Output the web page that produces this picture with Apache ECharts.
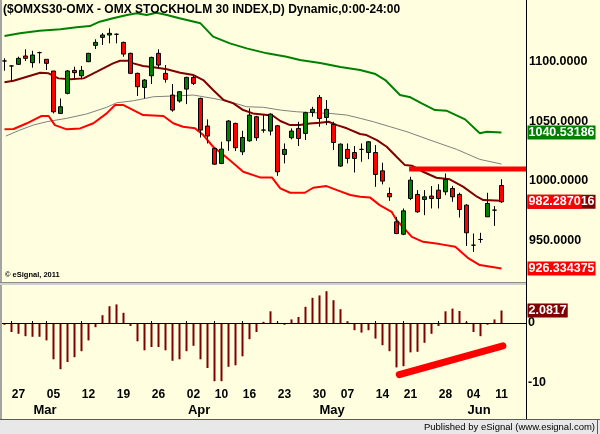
<!DOCTYPE html>
<html>
<head>
<meta charset="utf-8">
<script src="https://cdn.jsdelivr.net/npm/echarts@6/dist/echarts.min.js"></script>
<style>
  html, body { margin: 0; padding: 0; background: #ffffe0; }
  #chart { width: 600px; height: 434px; }
</style>
</head>
<body>
<div id="chart"></div>
<script>
// trading days shown on the chart
const dates = [
  '2012-02-23','2012-02-24','2012-02-27','2012-02-28','2012-02-29',
  '2012-03-01','2012-03-02','2012-03-05','2012-03-06','2012-03-07','2012-03-08','2012-03-09',
  '2012-03-12','2012-03-13','2012-03-14','2012-03-15','2012-03-16',
  '2012-03-19','2012-03-20','2012-03-21','2012-03-22','2012-03-23',
  '2012-03-26','2012-03-27','2012-03-28','2012-03-29','2012-03-30',
  '2012-04-02','2012-04-03','2012-04-04','2012-04-05',
  '2012-04-10','2012-04-11','2012-04-12','2012-04-13',
  '2012-04-16','2012-04-17','2012-04-18','2012-04-19','2012-04-20',
  '2012-04-23','2012-04-24','2012-04-25','2012-04-26','2012-04-27',
  '2012-04-30','2012-05-02','2012-05-03','2012-05-04',
  '2012-05-07','2012-05-08','2012-05-09','2012-05-10','2012-05-11',
  '2012-05-14','2012-05-15','2012-05-16','2012-05-18',
  '2012-05-21','2012-05-22','2012-05-23','2012-05-24','2012-05-25',
  '2012-05-28','2012-05-29','2012-05-30','2012-05-31',
  '2012-06-04','2012-06-05','2012-06-07','2012-06-08','2012-06-11'
];

const opens = [
  1100.5,1096.3,1097.7,1104.7,1099.1,1107.5,1101.9,1092.1,1056.5,1073.3,
  1092.6,1088.1,1099.9,1113.6,1120.3,1122.3,1122.9,1116.1,1106.9,1090.1,
  1078.3,1088.1,1106.9,1090.1,1071.9,1066.9,1076.9,1086.7,1069.1,1045.9,
  1027.1,1014.5,1033.5,1048.1,1024.3,1033.5,1053.7,1042.5,1041.7,1046.1,
  1022.1,1036.1,1043.9,1039.7,1057.3,1069.9,1053.1,1047.3,1012.3,1026.3,
  1023.7,1026.3,1023.7,1023.7,1008.3,989.3,965.5,955.1,985.1,988.5,
  984.3,987.1,992.1,990.7,993.5,988.5,979.5,945.9,950.7,969.7,
  975.3,996.0
];
const closes = [
  1100.5,1096.3,1102.7,1102.7,1105.5,1107.5,1098.5,1057.9,1062.1,1092.1,
  1090.7,1092.6,1106.9,1116.1,1122.3,1123.7,1122.9,1106.3,1090.1,1078.9,
  1084.5,1103.5,1097.1,1085.1,1059.3,1074.7,1086.7,1081.7,1042.5,1037.5,
  1013.9,1026.5,1050.1,1027.7,1036.3,1055.1,1036.1,1042.5,1055.9,1007.5,
  1026.3,1041.7,1035.5,1057.1,1059.9,1052.3,1059.9,1032.1,1030.7,1018.7,
  1018.7,1026.3,1032.7,1005.3,999.7,986.5,955.7,974.7,1000.5,973.9,
  986.5,985.1,985.1,1001.1,986.5,975.9,956.3,945.9,950.7,980.9,
  975.3,982.3
];
const lows = [
  1092.3,1083.1,1097.1,1100.5,1094.9,1098.5,1092.9,1056.5,1055.9,1072.5,
  1085.9,1085.1,1099.5,1110.5,1113.9,1115.3,1115.3,1104.1,1089.5,1071.1,
  1069.1,1081.1,1095.1,1082.3,1057.9,1065.5,1064.3,1080.3,1036.3,1031.3,
  1013.4,1013.9,1025.1,1024.9,1021.5,1032.7,1033.5,1040.3,1038.0,1004.1,
  1014.5,1034.7,1029.1,1034.1,1053.7,1045.3,1046.7,1025.7,1011.7,1014.5,
  1006.9,1015.9,1018.1,994.9,996.9,983.1,955.1,954.3,983.7,973.1,
  971.1,976.7,976.7,987.9,982.3,969.1,945.3,940.3,947.9,969.7,
  962.1,981.5
];
const highs = [
  1102.7,1096.8,1104.1,1110.3,1109.1,1108.3,1101.9,1092.1,1069.1,1092.9,
  1095.7,1096.3,1107.3,1118.7,1124.0,1127.9,1123.7,1116.7,1107.5,1090.7,
  1085.3,1104.1,1110.3,1097.1,1081.1,1075.3,1087.3,1087.9,1069.7,1051.5,
  1027.7,1032.7,1050.9,1048.7,1041.9,1060.7,1054.5,1055.1,1056.5,1046.7,
  1031.3,1043.9,1049.5,1057.9,1062.1,1071.9,1067.7,1049.5,1031.3,1031.3,
  1029.1,1031.3,1033.3,1029.9,1015.1,994.3,969.7,976.7,1003.3,992.1,
  992.1,995.5,997.1,1006.1,995.5,989.9,980.3,955.7,956.3,989.9,
  978.7,1001.3
];

// band lines, read as [bar, value]
const upperBand = [
  [0,1121.5],[2.2,1123.7],[5,1125.9],[8,1127.1],[10.3,1128.8],[12.2,1129.8],[13.6,1133.5],
  [15.5,1136.3],[17.5,1139.1],[18.9,1140.5],[20.3,1139.1],[21.7,1141.0],[23.2,1139.1],[25,1136.3],
  [28,1132.1],[29.8,1120.9],[32.2,1115.3],[34.6,1111.1],[37.5,1106.9],[40.3,1104.1],[42.2,1101.3],
  [45.1,1098.8],[48,1095.4],[50.8,1092.9],[53,1089.5],[54.4,1084.5],[56.5,1071.9],[58,1070.0],
  [59.6,1064.9],[61.5,1059.3],[63.2,1058.7],[65.8,1051.5],[67.9,1039.8],[68.9,1041.1],[71,1040.5]
];
const midBand = [
  [0,1082.6],[1.3,1083.9],[3.2,1087.3],[5.1,1090.6],[6.3,1090.1],[7.7,1085.9],[9.4,1085.1],
  [11.3,1085.9],[13.2,1091.5],[15.5,1098.5],[16.5,1100.7],[17.7,1100.7],[18.4,1098.5],[19.8,1096.3],
  [21.3,1095.2],[23.2,1093.5],[25.1,1090.6],[27,1088.7],[28.4,1084.5],[29.8,1076.1],[31.3,1067.7],
  [32.7,1064.9],[34.1,1059.3],[35.5,1056.5],[37.5,1055.1],[38.4,1054.3],[39.4,1050.1],[40.8,1046.7],
  [42.2,1046.7],[43.6,1048.1],[45.1,1048.7],[46.3,1049.5],[47.5,1046.7],[48.9,1044.0],[50.8,1039.2],
  [51.7,1038.3],[53.2,1034.1],[54.6,1028.5],[56,1020.1],[57.2,1013.1],[58.2,1012.6],[59.8,1007.5],
  [61.7,1002.5],[63.6,1001.2],[65.5,995.0],[67.5,986.6],[68.4,983.8],[71,983.2]
];
const lowerBand = [
  [0,1043.1],[1.3,1043.4],[3.2,1048.2],[4.6,1052.4],[5.3,1054.3],[6.3,1054.3],[7.2,1046.7],
  [8.9,1043.1],[10.8,1043.9],[12.7,1048.2],[14.6,1056.5],[15.8,1063.5],[17,1063.5],[18.4,1059.3],
  [19.8,1055.1],[22.7,1054.3],[24.1,1048.2],[25.5,1045.3],[27.2,1044.0],[28.4,1038.3],[29.8,1028.5],
  [31.3,1021.5],[32.7,1014.6],[34.1,1007.5],[36.5,1002.8],[38.2,1002.8],[39.4,993.6],[40.8,989.9],
  [42.9,989.9],[44.1,994.1],[46,995.5],[47.5,992.1],[49.4,988.0],[50.8,986.5],[52.2,986.0],
  [53.6,979.5],[55.3,973.9],[56,967.0],[58.2,952.9],[59.8,948.7],[62.2,946.8],[64.4,944.5],
  [66.3,934.8],[67.9,929.2],[71,926.3]
];
const slowAvg = [
  [0.2,1037.5],[2.2,1042.5],[4.1,1046.7],[6,1049.5],[8.9,1052.4],[11.7,1056.0],[14.6,1061.6],
  [16,1065.4],[18.4,1067.1],[21.3,1070.5],[24.1,1071.1],[27,1071.9],[29.8,1069.1],[32.2,1066.3],
  [34.6,1062.1],[37,1061.6],[39.4,1059.3],[41.7,1057.9],[44.1,1057.1],[46.5,1056.5],[48.9,1055.1],
  [50.8,1052.4],[52.7,1049.5],[55.1,1045.3],[57.5,1041.1],[60.8,1034.1],[64.6,1026.3],[67.9,1017.9],
  [71,1014.0]
];

// oscillator histogram (lower pane)
const osc = [
  -0.3,-1.5,-1.8,-2.2,-2.3,-2.3,-2.9,-6.05,-7.7,-6.5,
  -5.7,-4.7,-2.9,-0.7,1.3,2.8,3.1,1.7,-0.5,-3.05,
  -4.55,-4.0,-4.0,-4.55,-6.3,-6.05,-4.7,-3.8,-6.05,-7.5,
  -9.7,-9.7,-7.3,-7.05,-5.55,-2.7,-1.5,0.2,1.95,0.05,
  -0.3,0.6,1.0,2.7,4.2,4.6,5.3,3.8,2.3,0.3,
  -1.2,-1.6,-1.2,-2.6,-3.7,-4.7,-7.4,-7.2,-4.9,-4.8,
  -3.3,-1.8,-0.5,1.95,2.4,2.0,0.2,-1.5,-2.2,-0.3,
  0.6,2.0817
];

// drawn lines: resistance and oscillator trend, [bar, value]
const resistance = [[57.8, 1009.8], [74.5, 1009.8]];
const oscTrend = [[56.4, -8.6], [71.2, -3.8]];

const priceTicks = [950, 1000, 1050, 1100];
const oscTicks = [-10, 0];
const monthNames = ['Jan','Feb','Mar','Apr','May','Jun','Jul','Aug','Sep','Oct','Nov','Dec'];

// last-value tags on the right
const upperLast = 1040.53186;
const midLast = 982.287016;
const lowerLast = 926.334375;
const oscLast = 2.0817;
const upperTag = '1040.53186';
const midTag = '982.287016';
const closeTag = '982.2870';
const lowerTag = '926.334375';
const oscTag = '2.0817';

const FONT = '"Liberation Sans", Arial, sans-serif';
const slots = dates.length + 3;
const cats = dates.concat(['', '', '']);
const CLEAR = 'rgba(0,0,0,0)';

function dow(i) { return new Date(dates[i] + 'T00:00:00Z').getUTCDay(); }
function mon(i) { return +dates[i].slice(5, 7); }
function weekStart(i) { return i > 0 && i < dates.length && dow(i) < dow(i - 1); }
function periodEnd(i) {
    return i < dates.length - 1 && (dow(i + 1) < dow(i) || mon(i + 1) !== mon(i));
}

const monthPos = [];
const monthName = {};
dates.forEach((d, i) => {
    if (i > 0 && mon(i) !== mon(i - 1)) {
        const p = +(i + 0.8).toFixed(1);
        monthPos.push(p);
        monthName[p.toFixed(1)] = monthNames[mon(i) - 1];
    }
});

const candles = dates.map((d, i) => [opens[i], closes[i], lows[i], highs[i]]);

function tagLabel(text, bg) {
    return {
        show: true, position: 'end', distance: 1.5, formatter: text,
        color: '#fff', backgroundColor: bg,
        fontFamily: FONT, fontWeight: 'bold', fontSize: 12.5,
        lineHeight: 13, padding: [1, 1, 0, 1]
    };
}

function tag(value, text, bg) {
    return {
        silent: true,
        symbol: 'none',
        animation: false,
        data: [{
            yAxis: value,
            lineStyle: { color: CLEAR, width: 1 },
            label: tagLabel(text, bg)
        }]
    };
}

function band(data, color, width, z, mark) {
    return {
        type: 'line', xAxisIndex: 1, yAxisIndex: 0, data: data,
        symbol: 'none', showSymbol: false, z: z,
        lineStyle: { color: color, width: width },
        markLine: mark
    };
}

var chart = echarts.init(document.getElementById('chart'));
var option = {
    animation: false,
    backgroundColor: '#ffffe0',
    grid: [
        { left: 1, width: 525, top: 2, height: 280, containLabel: false, outerBoundsMode: 'none' },
        { left: 1, width: 525, top: 287, height: 99, containLabel: false, outerBoundsMode: 'none' }
    ],
    xAxis: [
        { type: 'category', gridIndex: 0, data: cats, boundaryGap: true, show: false },
        { type: 'value', gridIndex: 0, min: -0.5, max: slots - 0.5, show: false },
        {
            type: 'category', gridIndex: 1, data: cats, boundaryGap: true, position: 'bottom',
            axisLine: { lineStyle: { color: '#000', width: 1 } },
            axisTick: {
                show: true, alignWithLabel: true, inside: true, length: 2,
                interval: (i) => periodEnd(i), lineStyle: { color: '#000' }
            },
            axisLabel: {
                interval: (i) => weekStart(i), formatter: (v) => v.slice(8),
                color: '#000', fontFamily: FONT, fontWeight: 'bold', fontSize: 12, margin: 3
            },
            splitLine: { show: false }
        },
        {
            type: 'value', gridIndex: 1, min: -0.5, max: slots - 0.5, position: 'bottom',
            axisLine: { show: false }, axisTick: { show: false }, splitLine: { show: false },
            axisLabel: {
                customValues: monthPos, formatter: (v) => monthName[(+v).toFixed(1)] || '',
                color: '#000', fontFamily: FONT, fontWeight: 'bold', fontSize: 13, margin: 18
            }
        }
    ],
    yAxis: [
        {
            type: 'value', gridIndex: 0, position: 'right', min: 915, max: 1150,
            axisLine: { show: false }, axisTick: { show: false }, splitLine: { show: false },
            axisLabel: {
                customValues: priceTicks, formatter: (v) => (+v).toFixed(4),
                color: '#000', fontFamily: FONT, fontWeight: 'bold', fontSize: 12.5, margin: 3
            }
        },
        {
            type: 'value', gridIndex: 1, position: 'right', min: -10.5, max: 6,
            axisLine: { show: false }, axisTick: { show: false }, splitLine: { show: false },
            axisLabel: {
                customValues: oscTicks, formatter: (v) => String(v),
                color: '#000', fontFamily: FONT, fontWeight: 'bold', fontSize: 12.5, margin: 2
            }
        }
    ],
    series: [
        band(slowAvg, '#808080', 1, 2),
        band(lowerBand, '#ff0000', 2, 3, tag(lowerLast, lowerTag, '#ff0000')),
        band(upperBand, '#008000', 2, 3, tag(upperLast, upperTag, '#008000')),
        band(midBand, '#800000', 2, 3, tag(midLast, midTag, '#800000')),
        {
            type: 'line', xAxisIndex: 1, yAxisIndex: 0, data: resistance, z: 4,
            symbol: 'none', showSymbol: false,
            lineStyle: { color: '#ff0000', width: 5, cap: 'butt' }
        },
        {
            type: 'candlestick', xAxisIndex: 0, yAxisIndex: 0, data: candles,
            barWidth: 5, z: 5,
            itemStyle: {
                color: '#008000', color0: '#ff0000',
                borderColor: '#000', borderColor0: '#000', borderColorDoji: '#000', borderWidth: 1
            },
            markLine: tag(midLast, closeTag, '#ff0000')
        },
        {
            type: 'bar', xAxisIndex: 2, yAxisIndex: 1, data: osc, barWidth: 2,
            itemStyle: { color: '#800000' },
            markLine: {
                silent: true, symbol: 'none', animation: false,
                data: [
                    { yAxis: 0, lineStyle: { color: '#000', width: 1, type: 'solid' }, label: { show: false } },
                    { yAxis: oscLast, lineStyle: { color: CLEAR, width: 1 }, label: tagLabel(oscTag, '#800000') }
                ]
            }
        },
        {
            type: 'line', xAxisIndex: 3, yAxisIndex: 1, data: oscTrend, z: 4,
            symbol: 'none', showSymbol: false,
            lineStyle: { color: '#ff0000', width: 7, cap: 'round' }
        }
    ],
    graphic: [
        { type: 'rect', z: 50, shape: { x: 0, y: 0, width: 2, height: 419 }, style: { fill: '#a4a4a4' } },
        { type: 'rect', z: 50, shape: { x: 0, y: 282, width: 526, height: 3 }, style: { fill: '#d0d0d0' } },
        { type: 'line', z: 50, shape: { x1: 0, y1: 282.5, x2: 526, y2: 282.5 }, style: { stroke: '#8c8c8c', lineWidth: 1 } },
        { type: 'line', z: 50, shape: { x1: 526.5, y1: 0, x2: 526.5, y2: 419 }, style: { stroke: '#000', lineWidth: 1 } },
        { type: 'rect', z: 50, shape: { x: 0, y: 419, width: 600, height: 15 }, style: { fill: '#e8e8e8' } },
        { type: 'line', z: 51, shape: { x1: 0, y1: 419.5, x2: 600, y2: 419.5 }, style: { stroke: '#5a5a5a', lineWidth: 1 } },
        { type: 'line', z: 51, shape: { x1: 597.5, y1: 419, x2: 597.5, y2: 434 }, style: { stroke: '#5a5a5a', lineWidth: 1 } },
        {
            type: 'text', z: 100, x: 3, y: 10,
            style: {
                text: '($OMXS30-OMX - OMX STOCKHOLM 30 INDEX,D) Dynamic,0:00-24:00',
                fill: '#000', font: 'bold 12px ' + FONT,
                textAlign: 'left', textVerticalAlign: 'middle', align: 'left', verticalAlign: 'middle'
            }
        },
        {
            type: 'text', z: 100, x: 5, y: 275,
            style: {
                text: '\u00a9 eSignal, 2011', fill: '#000', font: 'bold 7.5px ' + FONT,
                textAlign: 'left', textVerticalAlign: 'middle', align: 'left', verticalAlign: 'middle'
            }
        },
        {
            type: 'text', z: 100, x: 595, y: 427,
            style: {
                text: 'Published by eSignal (www.esignal.com)', fill: '#000', font: '9.5px ' + FONT,
                textAlign: 'right', textVerticalAlign: 'middle', align: 'right', verticalAlign: 'middle'
            }
        }
    ]
};
chart.setOption(option);
</script>
</body>
</html>
